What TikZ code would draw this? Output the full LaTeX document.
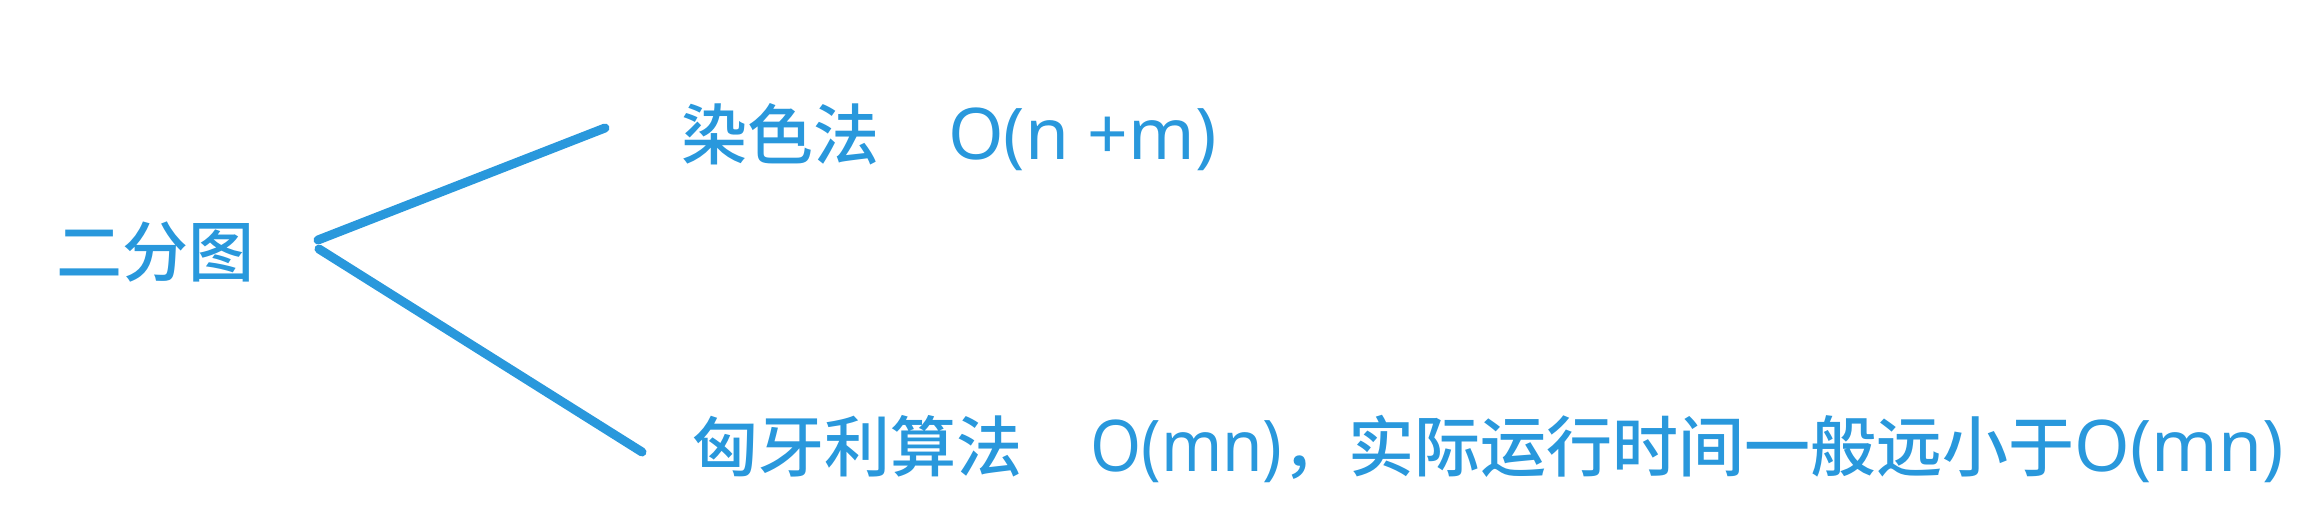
\documentclass[tikz,border=0pt]{standalone}
\usepackage{fontspec}
\setmainfont{Noto Sans CJK SC}[UprightFont=* Medium]
\newfontfamily\latinfont{Noto Sans}[Scale=1.08]
\newfontfamily\latinnarrow{Noto Sans}[Scale=1.08, FakeStretch=0.92]
\definecolor{lineblue}{RGB}{41,152,220}
\tikzset{
  lbl/.style={anchor=base west, inner sep=0pt, text=lineblue, font=\fontsize{66}{70}\selectfont},
  branch/.style={draw=lineblue, line width=9pt, line cap=round}
}
\begin{document}
\begin{tikzpicture}[x=1pt,y=1pt]
\useasboundingbox (0,0) rectangle (2304,514);
\node[lbl] (root) at (56,237) {二分图};
\node[lbl] (top) at (681,354) {染色法\hspace{69pt}{\latinfont O(n +m)}};
\node[lbl] (bot) at (692,42) {匈牙利算法\hspace{68pt}{\latinnarrow O(mn)}，实际运行时间一般远小于{\latinfont O(mn)}};
\coordinate (s1) at (318,274);
\coordinate (s2) at (319,265);
\coordinate (e1) at (605,386);
\coordinate (e2) at (642,62);
\draw[branch] (s1) -- (e1);
\draw[branch] (s2) -- (e2);
\end{tikzpicture}
\end{document}
